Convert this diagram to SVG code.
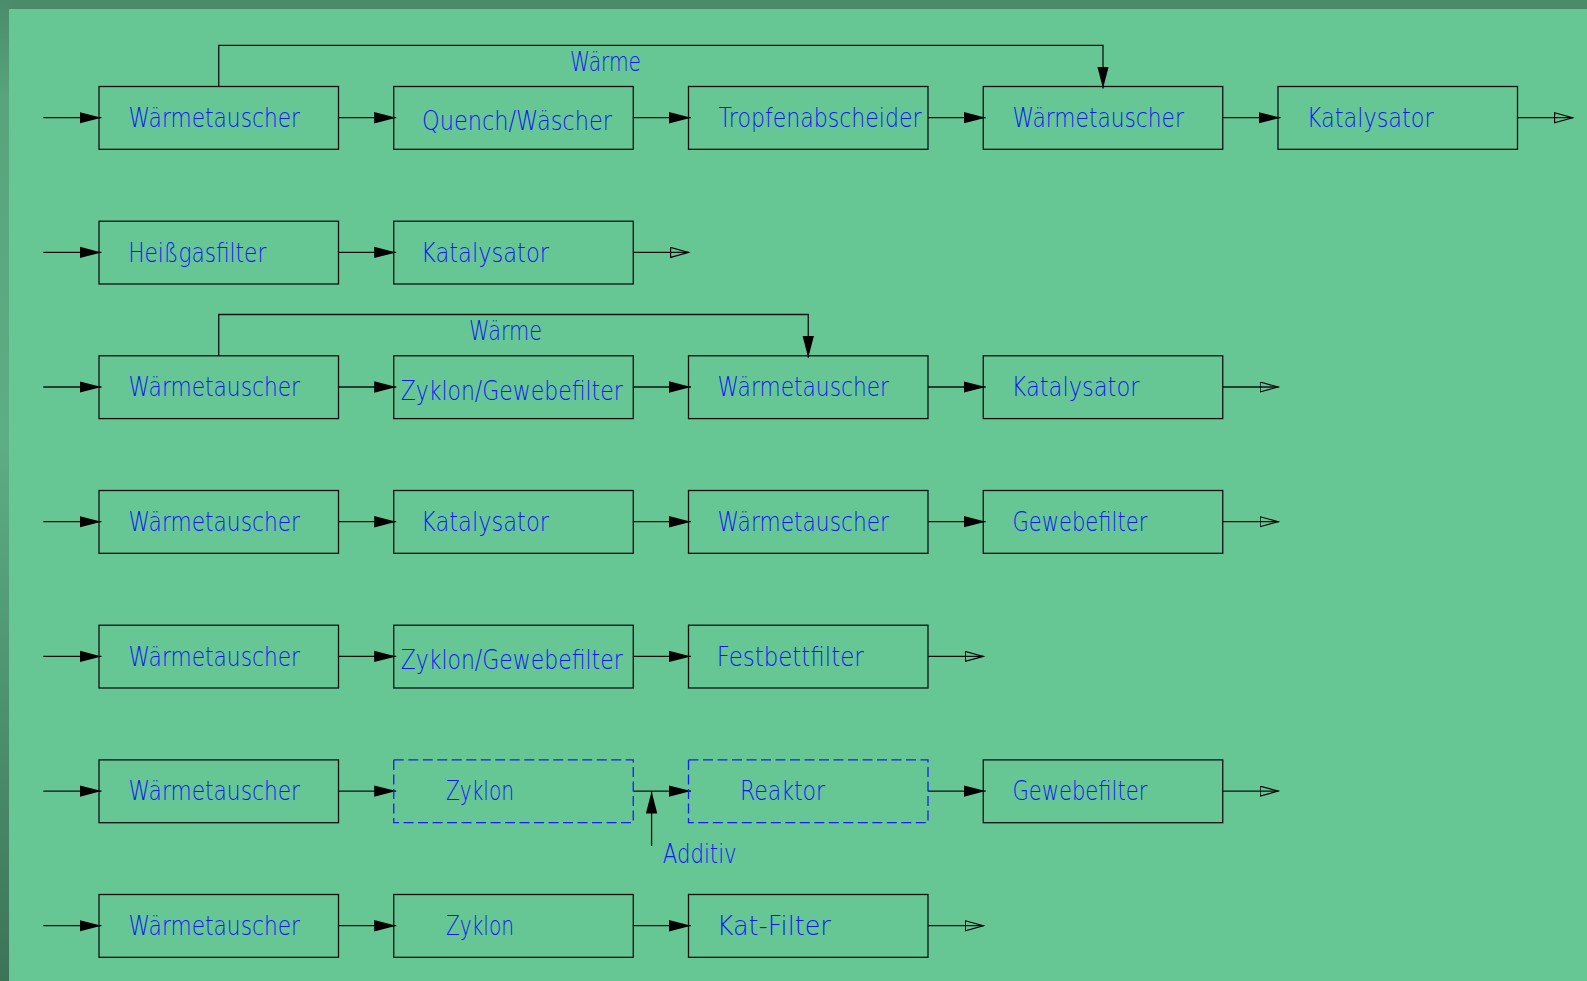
<svg xmlns="http://www.w3.org/2000/svg" width="1587" height="981" viewBox="0 0 1587 981">
<defs>
<linearGradient id="leftEdge" x1="0" y1="0" x2="0" y2="1">
<stop offset="0" stop-color="#4a8c6a"/>
<stop offset="0.1" stop-color="#58a47c"/>
<stop offset="0.45" stop-color="#5cae84"/>
<stop offset="1" stop-color="#3c7458"/>
</linearGradient>
<marker id="fill" markerUnits="userSpaceOnUse" markerWidth="24" markerHeight="13" refX="22" refY="6" orient="auto">
<path d="M0,0.3 L22,6 L0,11.7 z" fill="#000"/>
</marker>
<marker id="open" markerUnits="userSpaceOnUse" markerWidth="22" markerHeight="12" refX="19" refY="5.5" orient="auto">
<path d="M0.6,0.5 L18.6,5.5 L0.6,10.5 z" fill="none" stroke="#000" stroke-width="1.15"/>
</marker>
<style>
.box{fill:none;stroke:#111;stroke-width:1.3}
.dash{fill:none;stroke:#1420f4;stroke-width:1.3;stroke-dasharray:10 4.5}
.t{font-family:"DejaVu Sans","Liberation Sans",sans-serif;font-weight:200;font-size:26px;fill:#1018f8}
.c{fill:none;stroke:#111;stroke-width:1.3}
.a{marker-end:url(#fill)}
.o{marker-end:url(#open)}
</style>
</defs>
<rect x="0" y="0" width="1587" height="981" fill="#66c694"/>
<rect x="0" y="0" width="1587" height="9" fill="#4a8c6a"/>
<rect x="0" y="0" width="9" height="981" fill="url(#leftEdge)"/>

<g id="connectors">
<!-- row 1 -->
<path class="c a" d="M43.3,117.7 H101.5"/>
<path class="c a" d="M338.5,117.7 H396.2"/>
<path class="c a" d="M633.25,117.7 H691"/>
<path class="c a" d="M928,117.7 H985.7"/>
<path class="c a" d="M1222.75,117.7 H1280.5"/>
<path class="c o" d="M1517.5,117.7 H1573"/>
<path class="c a" d="M218.75,86.5 V45.3 H1103 V88.5"/>
<!-- row 2 -->
<path class="c a" d="M43.3,252.4 H101.5"/>
<path class="c a" d="M338.5,252.4 H396.2"/>
<path class="c o" d="M633.25,252.4 H689"/>
<!-- row 3 -->
<path class="c a" d="M43.3,387 H101.5"/>
<path class="c a" d="M338.5,387 H396.2"/>
<path class="c a" d="M633.25,387 H691"/>
<path class="c a" d="M928,387 H985.7"/>
<path class="c o" d="M1222.75,387 H1278.5"/>
<path class="c a" d="M218.75,355.8 V314.5 H808.25 V357.8"/>
<!-- row 4 -->
<path class="c a" d="M43.3,521.7 H101.5"/>
<path class="c a" d="M338.5,521.7 H396.2"/>
<path class="c a" d="M633.25,521.7 H691"/>
<path class="c a" d="M928,521.7 H985.7"/>
<path class="c o" d="M1222.75,521.7 H1278.5"/>
<!-- row 5 -->
<path class="c a" d="M43.3,656.4 H101.5"/>
<path class="c a" d="M338.5,656.4 H396.2"/>
<path class="c a" d="M633.25,656.4 H691"/>
<path class="c o" d="M928,656.4 H983.7"/>
<!-- row 6 -->
<path class="c a" d="M43.3,791.1 H101.5"/>
<path class="c a" d="M338.5,791.1 H396.2"/>
<path class="c a" d="M633.25,791.1 H691"/>
<path class="c a" d="M928,791.1 H985.7"/>
<path class="c o" d="M1222.75,791.1 H1278.5"/>
<path class="c a" d="M651.6,846 V791.5"/>
<!-- row 7 -->
<path class="c a" d="M43.3,925.7 H101.5"/>
<path class="c a" d="M338.5,925.7 H396.2"/>
<path class="c a" d="M633.25,925.7 H691"/>
<path class="c o" d="M928,925.7 H983.7"/>
</g>

<g id="labels">
<text class="t" x="570" y="71" textLength="71" lengthAdjust="spacingAndGlyphs">Wärme</text>
<text class="t" x="469" y="340.2" textLength="73" lengthAdjust="spacingAndGlyphs">Wärme</text>
<text class="t" x="662.7" y="863" textLength="74" lengthAdjust="spacingAndGlyphs">Additiv</text>
</g>

<!-- Row 1 -->
<g id="r1c0"><rect class="box" x="99" y="86.5" width="239.5" height="62.8"/><text class="t" x="128.5" y="127" textLength="171.5" lengthAdjust="spacingAndGlyphs">Wärmetauscher</text></g>
<g id="r1c1"><rect class="box" x="393.75" y="86.5" width="239.5" height="62.8"/><text class="t" x="422" y="130" textLength="190" lengthAdjust="spacingAndGlyphs">Quench/Wäscher</text></g>
<g id="r1c2"><rect class="box" x="688.5" y="86.5" width="239.5" height="62.8"/><text class="t" x="718.6" y="127" textLength="203" lengthAdjust="spacingAndGlyphs">Tropfenabscheider</text></g>
<g id="r1c3"><rect class="box" x="983.25" y="86.5" width="239.5" height="62.8"/><text class="t" x="1012.4" y="127" textLength="171.5" lengthAdjust="spacingAndGlyphs">Wärmetauscher</text></g>
<g id="r1c4"><rect class="box" x="1278" y="86.5" width="239.5" height="62.8"/><text class="t" x="1306.7" y="127" textLength="127" lengthAdjust="spacingAndGlyphs">Katalysator</text></g>

<!-- Row 2 -->
<g id="r2c0"><rect class="box" x="99" y="221.2" width="239.5" height="62.8"/><text class="t" x="128.3" y="261.7" textLength="138" lengthAdjust="spacingAndGlyphs">Heißgasfilter</text></g>
<g id="r2c1"><rect class="box" x="393.75" y="221.2" width="239.5" height="62.8"/><text class="t" x="421" y="261.7" textLength="128" lengthAdjust="spacingAndGlyphs">Katalysator</text></g>

<!-- Row 3 -->
<g id="r3c0"><rect class="box" x="99" y="355.8" width="239.5" height="62.8"/><text class="t" x="128.5" y="396.3" textLength="171.5" lengthAdjust="spacingAndGlyphs">Wärmetauscher</text></g>
<g id="r3c1"><rect class="box" x="393.75" y="355.8" width="239.5" height="62.8"/><text class="t" x="400.7" y="399.8" textLength="222" lengthAdjust="spacingAndGlyphs">Zyklon/Gewebefilter</text></g>
<g id="r3c2"><rect class="box" x="688.5" y="355.8" width="239.5" height="62.8"/><text class="t" x="717.5" y="396.3" textLength="171.5" lengthAdjust="spacingAndGlyphs">Wärmetauscher</text></g>
<g id="r3c3"><rect class="box" x="983.25" y="355.8" width="239.5" height="62.8"/><text class="t" x="1011.5" y="396.3" textLength="128" lengthAdjust="spacingAndGlyphs">Katalysator</text></g>

<!-- Row 4 -->
<g id="r4c0"><rect class="box" x="99" y="490.5" width="239.5" height="62.8"/><text class="t" x="128.5" y="531" textLength="171.5" lengthAdjust="spacingAndGlyphs">Wärmetauscher</text></g>
<g id="r4c1"><rect class="box" x="393.75" y="490.5" width="239.5" height="62.8"/><text class="t" x="421" y="531" textLength="128" lengthAdjust="spacingAndGlyphs">Katalysator</text></g>
<g id="r4c2"><rect class="box" x="688.5" y="490.5" width="239.5" height="62.8"/><text class="t" x="717.5" y="531" textLength="171.5" lengthAdjust="spacingAndGlyphs">Wärmetauscher</text></g>
<g id="r4c3"><rect class="box" x="983.25" y="490.5" width="239.5" height="62.8"/><text class="t" x="1012.4" y="531" textLength="135" lengthAdjust="spacingAndGlyphs">Gewebefilter</text></g>

<!-- Row 5 -->
<g id="r5c0"><rect class="box" x="99" y="625.2" width="239.5" height="62.8"/><text class="t" x="128.5" y="665.7" textLength="171.5" lengthAdjust="spacingAndGlyphs">Wärmetauscher</text></g>
<g id="r5c1"><rect class="box" x="393.75" y="625.2" width="239.5" height="62.8"/><text class="t" x="400.7" y="669.2" textLength="222" lengthAdjust="spacingAndGlyphs">Zyklon/Gewebefilter</text></g>
<g id="r5c2"><rect class="box" x="688.5" y="625.2" width="239.5" height="62.8"/><text class="t" x="716.7" y="665.7" textLength="147" lengthAdjust="spacingAndGlyphs">Festbettfilter</text></g>

<!-- Row 6 -->
<g id="r6c0"><rect class="box" x="99" y="759.9" width="239.5" height="62.8"/><text class="t" x="128.5" y="800.4" textLength="171.5" lengthAdjust="spacingAndGlyphs">Wärmetauscher</text></g>
<g id="r6c1"><rect class="dash" x="393.75" y="759.9" width="239.5" height="62.8"/><text class="t" x="446" y="800.4" textLength="68" lengthAdjust="spacingAndGlyphs">Zyklon</text></g>
<g id="r6c2"><rect class="dash" x="688.5" y="759.9" width="239.5" height="62.8"/><text class="t" x="740" y="800.4" textLength="85" lengthAdjust="spacingAndGlyphs">Reaktor</text></g>
<g id="r6c3"><rect class="box" x="983.25" y="759.9" width="239.5" height="62.8"/><text class="t" x="1012.4" y="800.4" textLength="135" lengthAdjust="spacingAndGlyphs">Gewebefilter</text></g>

<!-- Row 7 -->
<g id="r7c0"><rect class="box" x="99" y="894.5" width="239.5" height="62.8"/><text class="t" x="128.5" y="935" textLength="171.5" lengthAdjust="spacingAndGlyphs">Wärmetauscher</text></g>
<g id="r7c1"><rect class="box" x="393.75" y="894.5" width="239.5" height="62.8"/><text class="t" x="446" y="935" textLength="68" lengthAdjust="spacingAndGlyphs">Zyklon</text></g>
<g id="r7c2"><rect class="box" x="688.5" y="894.5" width="239.5" height="62.8"/><text class="t" x="716.8" y="935" textLength="114" lengthAdjust="spacingAndGlyphs">Kat-Filter</text></g>
</svg>
